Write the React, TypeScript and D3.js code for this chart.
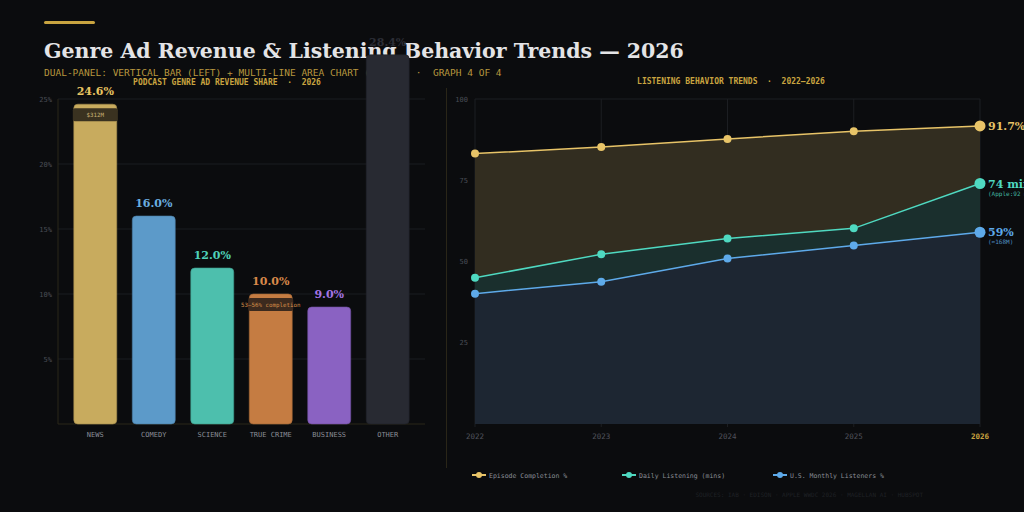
import React, { useEffect, useRef } from "react"
import * as d3 from "d3"

// left panel: genre ad revenue share
const genres = ["NEWS", "COMEDY", "SCIENCE", "TRUE CRIME", "BUSINESS", "OTHER"]
const shares = [24.6, 16.0, 12.0, 10.0, 9.0, 28.4]
const barColors = ["#c8ab5e", "#5c9ac9", "#4dbfad", "#c57c42", "#8a62c2", "#282a32"]
const labelColors = ["#e8c462", "#6aaee0", "#4fd2ba", "#d8894a", "#a474e6", "#2c2e36"]
const shareTicks = [5, 10, 15, 20, 25]
const barNotes = [{ genre: "NEWS", text: "$312M" }, { genre: "TRUE CRIME", text: "53–56% completion" }]

// right panel: listening behaviour
const years = [2022, 2023, 2024, 2025, 2026]
const completion = [83.2, 85.2, 87.7, 90.1, 91.7]
const dailyMins = [45, 52.2, 57.1, 60.2, 74]
const monthlyPct = [40.1, 43.8, 50.9, 54.9, 59]
const trendTicks = [25, 50, 75, 100]

const series = [
  { name: "Episode Completion %", values: completion, color: "#e8c468", fill: "#322d20", end: "91.7%", sub: "" },
  { name: "Daily Listening (mins)", values: dailyMins, color: "#4fd9c1", fill: "#1a2f2d", end: "74 min", sub: "(Apple:92 min)" },
  { name: "U.S. Monthly Listeners %", values: monthlyPct, color: "#5eaaea", fill: "#1d2632", end: "59%", sub: "(≈168M)" },
]

const MONO = "'DejaVu Sans Mono', monospace"
const SERIF = "'DejaVu Serif', serif"

export default function App() {
  const ref = useRef<SVGSVGElement>(null)

  useEffect(() => {
    const svg = d3.select(ref.current)
    svg.selectAll("*").remove()

    svg.append("rect").attr("width", 1024).attr("height", 512).attr("fill", "#0b0c0e")

    // header
    svg.append("rect").attr("x", 44).attr("y", 21).attr("width", 51).attr("height", 3).attr("rx", 1.5).attr("fill", "#c9a440")
    svg.append("text").attr("x", 44).attr("y", 58)
      .attr("font-family", SERIF).attr("font-weight", "bold").attr("font-size", 20.5)
      .attr("fill", "#e4e4e6")
      .text("Genre Ad Revenue & Listening Behavior Trends — 2026")
    svg.append("text").attr("x", 44).attr("y", 76)
      .attr("font-family", MONO).attr("font-size", 9.5).attr("fill", "#b8973e")
      .attr("xml:space", "preserve")
      .text("DUAL-PANEL: VERTICAL BAR (LEFT) + MULTI-LINE AREA CHART (RIGHT)  ·  GRAPH 4 OF 4")

    // ---------- left panel ----------
    const lx = d3.scaleBand().domain(genres).range([58, 425]).paddingInner(0.265).paddingOuter(0.27)
    const ly = d3.scaleLinear().domain([0, 25]).range([424, 99])
    const left = svg.append("g")

    left.append("text").attr("x", 227).attr("y", 85).attr("text-anchor", "middle")
      .attr("font-family", MONO).attr("font-weight", "bold").attr("font-size", 8).attr("fill", "#c9a440")
      .attr("xml:space", "preserve")
      .text("PODCAST GENRE AD REVENUE SHARE  ·  2026")

    shareTicks.forEach((t) => {
      left.append("line").attr("x1", 58).attr("x2", 425).attr("y1", ly(t)).attr("y2", ly(t))
        .attr("stroke", "#1b1c20").attr("stroke-width", 1)
      left.append("text").attr("x", 52).attr("y", ly(t) + 2.5).attr("text-anchor", "end")
        .attr("font-family", MONO).attr("font-size", 7).attr("fill", "#4a4c55").text(t + "%")
    })
    left.append("line").attr("x1", 58).attr("x2", 58).attr("y1", 99).attr("y2", 424).attr("stroke", "#2a2618")
    left.append("line").attr("x1", 58).attr("x2", 425).attr("y1", 424).attr("y2", 424).attr("stroke", "#2a2618")

    genres.forEach((g, i) => {
      const x = lx(g) as number
      const w = lx.bandwidth()
      left.append("rect").attr("x", x).attr("y", ly(shares[i])).attr("width", w)
        .attr("height", ly(0) - ly(shares[i])).attr("rx", 4)
        .attr("fill", barColors[i]).attr("stroke", d3.color(barColors[i])!.darker(0.6).toString()).attr("stroke-width", 0.6)
      left.append("text").attr("x", x + w / 2).attr("y", ly(shares[i]) - 9).attr("text-anchor", "middle")
        .attr("font-family", SERIF).attr("font-weight", "bold").attr("font-size", 11)
        .attr("fill", labelColors[i]).text(shares[i].toFixed(1) + "%")
      left.append("text").attr("x", x + w / 2).attr("y", 437).attr("text-anchor", "middle")
        .attr("font-family", MONO).attr("font-size", 7).attr("fill", "#8a8c95").text(g)
    })

    barNotes.forEach((n) => {
      const i = genres.indexOf(n.genre)
      const x = lx(n.genre) as number
      const w = lx.bandwidth()
      const top = ly(shares[i])
      left.append("rect").attr("x", x - 1).attr("y", top + 4).attr("width", w + 2).attr("height", 13).attr("rx", 2)
        .attr("fill", i === 0 ? "#3a3220" : "#3c2a1e")
      left.append("text").attr("x", x + w / 2).attr("y", top + 12.5).attr("text-anchor", "middle")
        .attr("font-family", MONO).attr("font-size", 5.8).attr("fill", i === 0 ? "#cdb477" : "#d8904a").text(n.text)
    })

    // divider
    svg.append("line").attr("x1", 446.5).attr("x2", 446.5).attr("y1", 88).attr("y2", 468).attr("stroke", "#2a2618")

    // ---------- right panel ----------
    const rx = d3.scaleLinear().domain([2022, 2026]).range([475, 980])
    const ry = d3.scaleLinear().domain([0, 100]).range([424, 99])
    const right = svg.append("g")

    right.append("text").attr("x", 731).attr("y", 84).attr("text-anchor", "middle")
      .attr("font-family", MONO).attr("font-weight", "bold").attr("font-size", 8).attr("fill", "#c9a440")
      .attr("xml:space", "preserve")
      .text("LISTENING BEHAVIOR TRENDS  ·  2022–2026")

    right.append("line").attr("x1", 475).attr("x2", 980).attr("y1", ry(100)).attr("y2", ry(100)).attr("stroke", "#1c1e22")
    years.forEach((yr) => {
      right.append("line").attr("x1", rx(yr)).attr("x2", rx(yr)).attr("y1", 99).attr("y2", 427).attr("stroke", "#1c1e22")
      right.append("text").attr("x", rx(yr)).attr("y", 439).attr("text-anchor", "middle")
        .attr("font-family", MONO).attr("font-size", 7.5)
        .attr("font-weight", yr === 2026 ? "bold" : "normal")
        .attr("fill", yr === 2026 ? "#c9a440" : "#50525b").text(yr)
    })
    trendTicks.forEach((t) => {
      right.append("text").attr("x", 468).attr("y", ry(t) + 2.5).attr("text-anchor", "end")
        .attr("font-family", MONO).attr("font-size", 7).attr("fill", "#4a4c55").text(t)
    })

    series.forEach((s) => {
      const pts = s.values.map((v, i) => [years[i], v] as [number, number])
      const area = d3.area<[number, number]>().x((d) => rx(d[0])).y0(ry(0)).y1((d) => ry(d[1]))
      right.append("path").attr("d", area(pts)).attr("fill", s.fill)
    })
    series.forEach((s) => {
      const pts = s.values.map((v, i) => [years[i], v] as [number, number])
      const line = d3.line<[number, number]>().x((d) => rx(d[0])).y((d) => ry(d[1]))
      right.append("path").attr("d", line(pts)).attr("fill", "none").attr("stroke", s.color).attr("stroke-width", 1.5)
      pts.forEach((d, i) => {
        right.append("circle").attr("cx", rx(d[0])).attr("cy", ry(d[1])).attr("r", i === pts.length - 1 ? 5.5 : 4)
          .attr("fill", s.color)
      })
      const last = pts[pts.length - 1]
      right.append("text").attr("x", rx(last[0]) + 8).attr("y", ry(last[1]) + 4)
        .attr("font-family", SERIF).attr("font-weight", "bold").attr("font-size", 11).attr("fill", s.color).text(s.end)
      if (s.sub) {
        right.append("text").attr("x", rx(last[0]) + 8).attr("y", ry(last[1]) + 12)
          .attr("font-family", MONO).attr("font-size", 6).attr("fill", d3.color(s.color)!.darker(0.5).toString()).text(s.sub)
      }
    })

    // legend
    const legendX = [472, 622, 773]
    series.forEach((s, i) => {
      const g = right.append("g").attr("transform", `translate(${legendX[i]},475)`)
      g.append("line").attr("x1", 0).attr("x2", 14).attr("y1", 0).attr("y2", 0).attr("stroke", s.color).attr("stroke-width", 2)
      g.append("circle").attr("cx", 7).attr("cy", 0).attr("r", 3).attr("fill", s.color)
      g.append("text").attr("x", 17).attr("y", 2.5).attr("font-family", MONO).attr("font-size", 6.5)
        .attr("fill", "#8a8c95").text(s.name)
    })

    svg.append("text").attr("x", 923).attr("y", 497).attr("text-anchor", "end")
      .attr("font-family", MONO).attr("font-size", 6).attr("fill", "#1f2125")
      .text("SOURCES: IAB · EDISON · APPLE WWDC 2026 · MAGELLAN AI · HUBSPOT")
  }, [])

  return <svg ref={ref} width={1024} height={512} style={{ position: "fixed", left: 0, top: 0 }} />
}
